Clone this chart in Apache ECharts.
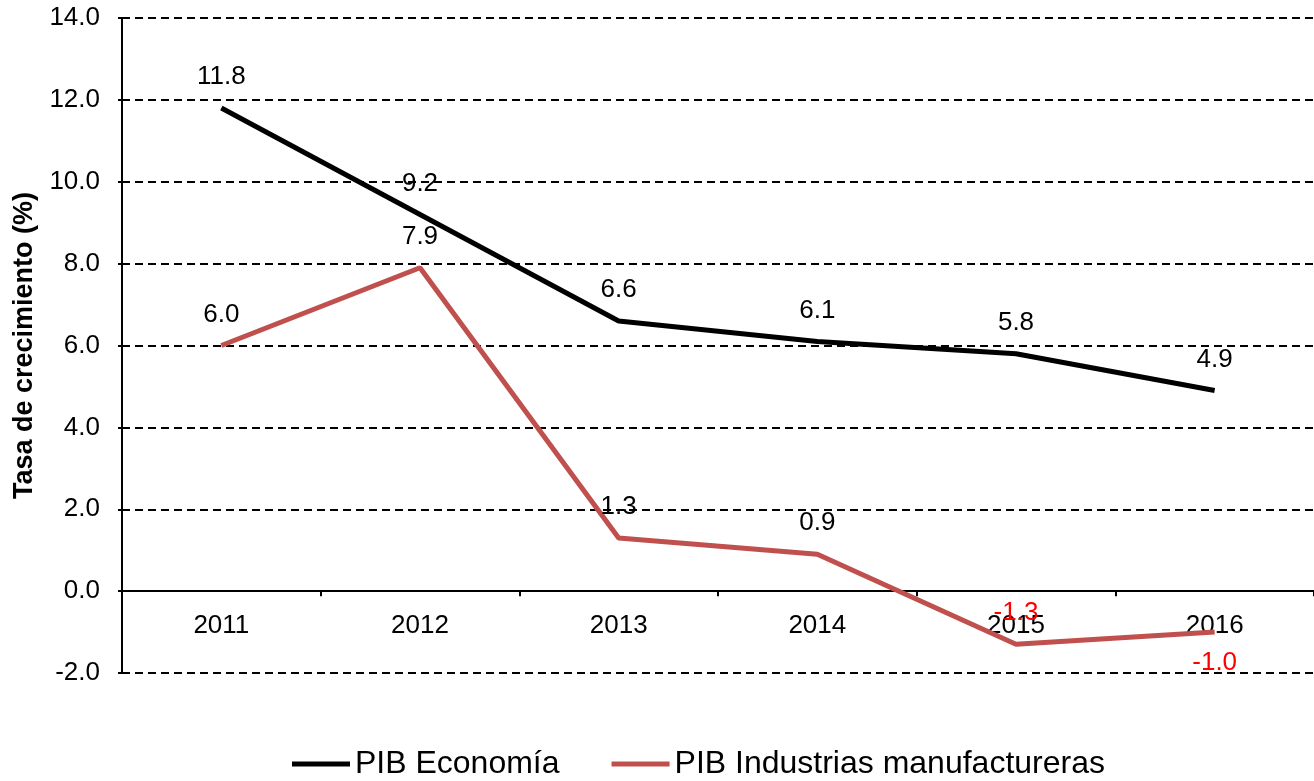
<!DOCTYPE html>
<html>
<head>
<meta charset="utf-8">
<script src="https://cdn.jsdelivr.net/npm/echarts@6/dist/echarts.min.js"></script>
<style>html,body{margin:0;padding:0;background:#fff}#c{width:1314px;height:781px}</style>
</head>
<body>
<div id="c"></div>
<script>
var categories = ['2011', '2012', '2013', '2014', '2015', '2016'];
var pibEconomia = [11.8, 9.2, 6.6, 6.1, 5.8, 4.9];
var pibIndustrias = [6.0, 7.9, 1.3, 0.9, -1.3, -1.0];
var seriesNames = ['PIB Economía', 'PIB Industrias manufactureras'];
var yTicks = {min: -2, max: 14, interval: 2};

var FONT = '"Liberation Sans", Arial, Helvetica, sans-serif';

function buildIndData(vals) {
  return vals.map(function (v, i) {
    var d = {value: v};
    if (v < 0) {
      d.label = {color: '#ff0000'};
      if (i === vals.length - 1) { d.label.position = 'bottom'; }
    }
    return d;
  });
}

var GRID_TOP = 18, GRID_BOTTOM = 108, PLOT_H = 781 - GRID_TOP - GRID_BOTTOM;
// shift of the category axis from the grid bottom to the zero line
var zeroOffset = -PLOT_H * (0 - yTicks.min) / (yTicks.max - yTicks.min);

var chart = echarts.init(document.getElementById('c'), null, {renderer: 'canvas'});
chart.setOption({
  animation: false,
  backgroundColor: '#ffffff',
  grid: {left: 122, right: -8, top: GRID_TOP, bottom: GRID_BOTTOM, containLabel: false},
  legend: {
    left: 292,
    top: 748,
    padding: 0,
    icon: 'rect',
    itemWidth: 58,
    itemHeight: 5,
    itemGap: 52,
    textStyle: {fontFamily: FONT, fontSize: 32, color: '#000'},
    data: seriesNames
  },
  xAxis: {
    type: 'category',
    data: categories,
    boundaryGap: true,
    offset: zeroOffset,
    axisLine: {onZero: false, lineStyle: {color: '#000', width: 2}},
    axisTick: {show: true, length: 5, lineStyle: {color: '#000', width: 2}},
    axisLabel: {fontFamily: FONT, fontSize: 26, color: '#000', margin: 22},
    splitLine: {show: false}
  },
  yAxis: {
    type: 'value',
    min: yTicks.min,
    max: yTicks.max,
    interval: yTicks.interval,
    name: 'Tasa de crecimiento (%)',
    nameLocation: 'middle',
    nameGap: 84,
    nameTextStyle: {fontFamily: FONT, fontSize: 27, fontWeight: 'bold', color: '#000'},
    axisLine: {show: true, lineStyle: {color: '#000', width: 2}},
    axisTick: {show: true, length: 4, lineStyle: {color: '#000', width: 2}},
    axisLabel: {fontFamily: FONT, fontSize: 26, color: '#000', margin: 22,
      formatter: function (v) { return v.toFixed(1); }},
    splitLine: {show: true, lineStyle: {color: '#000', width: 2, type: [8, 5]}}
  },
  series: [
    {
      name: seriesNames[0],
      type: 'line',
      data: pibEconomia,
      showSymbol: true,
      symbol: 'circle',
      symbolSize: 0.1,
      lineStyle: {color: '#000000', width: 5},
      itemStyle: {color: '#000000'},
      label: {show: true, position: 'top', distance: 18, fontFamily: FONT, fontSize: 26, color: '#000',
        formatter: function (p) { return Number(p.value).toFixed(1); }},
      z: 3
    },
    {
      name: seriesNames[1],
      type: 'line',
      data: buildIndData(pibIndustrias),
      showSymbol: true,
      symbol: 'circle',
      symbolSize: 0.1,
      lineStyle: {color: '#C0504D', width: 5},
      itemStyle: {color: '#C0504D'},
      label: {show: true, position: 'top', distance: 18, fontFamily: FONT, fontSize: 26, color: '#000',
        formatter: function (p) { return Number(p.value).toFixed(1); }},
      z: 2
    }
  ]
});
</script>
</body>
</html>
